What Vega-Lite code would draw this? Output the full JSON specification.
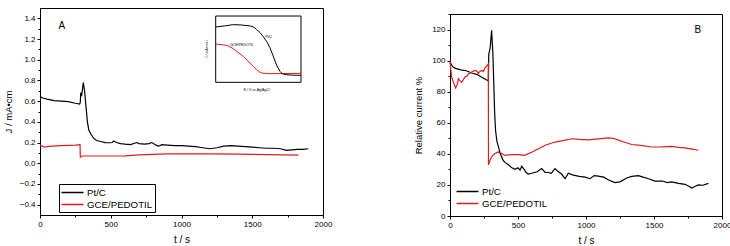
{
  "$schema": "https://vega.github.io/schema/vega-lite/v6.json",
  "padding": {"left": 2, "top": 7, "right": 0, "bottom": 0},
  "spacing": 80,
  "config": {
    "font": "Liberation Sans",
    "view": {"stroke": "black", "strokeWidth": 1},
    "axis": {
      "grid": false,
      "domainColor": "black",
      "tickColor": "black",
      "labelColor": "black",
      "titleColor": "black",
      "labelFont": "Liberation Sans",
      "titleFont": "Liberation Sans",
      "labelFontSize": 8,
      "titleFontSize": 10,
      "titleFontWeight": "normal",
      "tickSize": 3,
      "tickCount": 30,
      "labelPadding": 2,
      "labelOverlap": false,
      "labelFlush": false
    },
    "legend": {
      "labelFont": "Liberation Sans",
      "labelFontSize": 9.7,
      "labelColor": "black",
      "symbolType": "M-2,0H2",
      "symbolStrokeWidth": 1.5,
      "symbolSize": 121,
      "symbolOffset": 5,
      "labelOffset": 8,
      "rowPadding": -3
    },
    "text": {"font": "Liberation Sans"}
  },
  "resolve": {"scale": {"color": "independent"}, "legend": {"color": "independent"}},
  "datasets": {
    "panelA": [
      {"series": "Pt/C", "t": 0, "v": 0.645},
      {"series": "Pt/C", "t": 20, "v": 0.63},
      {"series": "Pt/C", "t": 50, "v": 0.62},
      {"series": "Pt/C", "t": 100, "v": 0.605},
      {"series": "Pt/C", "t": 150, "v": 0.6},
      {"series": "Pt/C", "t": 200, "v": 0.595},
      {"series": "Pt/C", "t": 250, "v": 0.58},
      {"series": "Pt/C", "t": 280, "v": 0.572},
      {"series": "Pt/C", "t": 285, "v": 0.59},
      {"series": "Pt/C", "t": 288, "v": 0.68},
      {"series": "Pt/C", "t": 295, "v": 0.66},
      {"series": "Pt/C", "t": 306, "v": 0.78},
      {"series": "Pt/C", "t": 315, "v": 0.7},
      {"series": "Pt/C", "t": 325, "v": 0.55},
      {"series": "Pt/C", "t": 335, "v": 0.4},
      {"series": "Pt/C", "t": 345, "v": 0.32},
      {"series": "Pt/C", "t": 360, "v": 0.28},
      {"series": "Pt/C", "t": 380, "v": 0.24},
      {"series": "Pt/C", "t": 400, "v": 0.22},
      {"series": "Pt/C", "t": 430, "v": 0.21},
      {"series": "Pt/C", "t": 460, "v": 0.2},
      {"series": "Pt/C", "t": 495, "v": 0.198},
      {"series": "Pt/C", "t": 510, "v": 0.2},
      {"series": "Pt/C", "t": 520, "v": 0.215},
      {"series": "Pt/C", "t": 540, "v": 0.2},
      {"series": "Pt/C", "t": 570, "v": 0.19},
      {"series": "Pt/C", "t": 600, "v": 0.185},
      {"series": "Pt/C", "t": 640, "v": 0.18},
      {"series": "Pt/C", "t": 683, "v": 0.2},
      {"series": "Pt/C", "t": 700, "v": 0.19},
      {"series": "Pt/C", "t": 740, "v": 0.185},
      {"series": "Pt/C", "t": 770, "v": 0.19},
      {"series": "Pt/C", "t": 790, "v": 0.2},
      {"series": "Pt/C", "t": 820, "v": 0.175},
      {"series": "Pt/C", "t": 840, "v": 0.165},
      {"series": "Pt/C", "t": 860, "v": 0.18},
      {"series": "Pt/C", "t": 900, "v": 0.175},
      {"series": "Pt/C", "t": 950, "v": 0.17},
      {"series": "Pt/C", "t": 1000, "v": 0.17},
      {"series": "Pt/C", "t": 1050, "v": 0.165},
      {"series": "Pt/C", "t": 1100, "v": 0.16},
      {"series": "Pt/C", "t": 1150, "v": 0.15},
      {"series": "Pt/C", "t": 1200, "v": 0.14},
      {"series": "Pt/C", "t": 1250, "v": 0.15},
      {"series": "Pt/C", "t": 1300, "v": 0.165},
      {"series": "Pt/C", "t": 1350, "v": 0.17},
      {"series": "Pt/C", "t": 1400, "v": 0.165},
      {"series": "Pt/C", "t": 1450, "v": 0.16},
      {"series": "Pt/C", "t": 1500, "v": 0.155},
      {"series": "Pt/C", "t": 1550, "v": 0.15},
      {"series": "Pt/C", "t": 1600, "v": 0.145},
      {"series": "Pt/C", "t": 1650, "v": 0.145},
      {"series": "Pt/C", "t": 1700, "v": 0.14},
      {"series": "Pt/C", "t": 1740, "v": 0.125},
      {"series": "Pt/C", "t": 1780, "v": 0.13},
      {"series": "Pt/C", "t": 1820, "v": 0.135},
      {"series": "Pt/C", "t": 1860, "v": 0.135},
      {"series": "Pt/C", "t": 1896, "v": 0.14},
      {"series": "GCE/PEDOTIL", "t": 0, "v": 0.175},
      {"series": "GCE/PEDOTIL", "t": 15, "v": 0.165},
      {"series": "GCE/PEDOTIL", "t": 35, "v": 0.155},
      {"series": "GCE/PEDOTIL", "t": 50, "v": 0.16},
      {"series": "GCE/PEDOTIL", "t": 80, "v": 0.165},
      {"series": "GCE/PEDOTIL", "t": 150, "v": 0.17},
      {"series": "GCE/PEDOTIL", "t": 200, "v": 0.172},
      {"series": "GCE/PEDOTIL", "t": 250, "v": 0.175},
      {"series": "GCE/PEDOTIL", "t": 283, "v": 0.18},
      {"series": "GCE/PEDOTIL", "t": 285, "v": 0.06},
      {"series": "GCE/PEDOTIL", "t": 300, "v": 0.07},
      {"series": "GCE/PEDOTIL", "t": 400, "v": 0.07},
      {"series": "GCE/PEDOTIL", "t": 500, "v": 0.07},
      {"series": "GCE/PEDOTIL", "t": 600, "v": 0.072},
      {"series": "GCE/PEDOTIL", "t": 700, "v": 0.08},
      {"series": "GCE/PEDOTIL", "t": 800, "v": 0.085},
      {"series": "GCE/PEDOTIL", "t": 900, "v": 0.09},
      {"series": "GCE/PEDOTIL", "t": 1000, "v": 0.09},
      {"series": "GCE/PEDOTIL", "t": 1200, "v": 0.09},
      {"series": "GCE/PEDOTIL", "t": 1400, "v": 0.088},
      {"series": "GCE/PEDOTIL", "t": 1600, "v": 0.083},
      {"series": "GCE/PEDOTIL", "t": 1826, "v": 0.078}
    ],
    "panelB": [
      {"series": "Pt/C", "t": 0, "v": 99},
      {"series": "Pt/C", "t": 20, "v": 96},
      {"series": "Pt/C", "t": 40, "v": 95},
      {"series": "Pt/C", "t": 80, "v": 94},
      {"series": "Pt/C", "t": 120, "v": 93.5},
      {"series": "Pt/C", "t": 160, "v": 92},
      {"series": "Pt/C", "t": 200, "v": 91},
      {"series": "Pt/C", "t": 240, "v": 89},
      {"series": "Pt/C", "t": 270, "v": 87.5},
      {"series": "Pt/C", "t": 282, "v": 87},
      {"series": "Pt/C", "t": 285, "v": 104},
      {"series": "Pt/C", "t": 295, "v": 108},
      {"series": "Pt/C", "t": 306, "v": 119.5},
      {"series": "Pt/C", "t": 315, "v": 105},
      {"series": "Pt/C", "t": 322, "v": 85},
      {"series": "Pt/C", "t": 328, "v": 67},
      {"series": "Pt/C", "t": 335, "v": 55},
      {"series": "Pt/C", "t": 345, "v": 48},
      {"series": "Pt/C", "t": 355, "v": 45},
      {"series": "Pt/C", "t": 370, "v": 40},
      {"series": "Pt/C", "t": 390, "v": 36},
      {"series": "Pt/C", "t": 404, "v": 34.5},
      {"series": "Pt/C", "t": 430, "v": 33},
      {"series": "Pt/C", "t": 455, "v": 31},
      {"series": "Pt/C", "t": 478, "v": 30},
      {"series": "Pt/C", "t": 500, "v": 31},
      {"series": "Pt/C", "t": 515, "v": 29.5},
      {"series": "Pt/C", "t": 527, "v": 32},
      {"series": "Pt/C", "t": 545, "v": 30},
      {"series": "Pt/C", "t": 560, "v": 28},
      {"series": "Pt/C", "t": 576, "v": 27},
      {"series": "Pt/C", "t": 600, "v": 27.5},
      {"series": "Pt/C", "t": 640, "v": 28.5},
      {"series": "Pt/C", "t": 674, "v": 30.5},
      {"series": "Pt/C", "t": 700, "v": 28},
      {"series": "Pt/C", "t": 723, "v": 28},
      {"series": "Pt/C", "t": 745, "v": 27.5},
      {"series": "Pt/C", "t": 772, "v": 30.5},
      {"series": "Pt/C", "t": 790, "v": 29},
      {"series": "Pt/C", "t": 820, "v": 27},
      {"series": "Pt/C", "t": 846, "v": 24},
      {"series": "Pt/C", "t": 870, "v": 27.5},
      {"series": "Pt/C", "t": 900, "v": 26.5},
      {"series": "Pt/C", "t": 950, "v": 25.5},
      {"series": "Pt/C", "t": 993, "v": 25},
      {"series": "Pt/C", "t": 1030, "v": 24},
      {"series": "Pt/C", "t": 1060, "v": 26},
      {"series": "Pt/C", "t": 1091, "v": 25.7},
      {"series": "Pt/C", "t": 1130, "v": 25},
      {"series": "Pt/C", "t": 1170, "v": 23},
      {"series": "Pt/C", "t": 1213, "v": 21.5},
      {"series": "Pt/C", "t": 1250, "v": 22},
      {"series": "Pt/C", "t": 1300, "v": 24.5},
      {"series": "Pt/C", "t": 1336, "v": 25.5},
      {"series": "Pt/C", "t": 1385, "v": 26},
      {"series": "Pt/C", "t": 1420, "v": 25},
      {"series": "Pt/C", "t": 1460, "v": 24},
      {"series": "Pt/C", "t": 1508, "v": 22.5},
      {"series": "Pt/C", "t": 1560, "v": 22.5},
      {"series": "Pt/C", "t": 1600, "v": 21.5},
      {"series": "Pt/C", "t": 1630, "v": 22},
      {"series": "Pt/C", "t": 1680, "v": 21},
      {"series": "Pt/C", "t": 1728, "v": 20.4},
      {"series": "Pt/C", "t": 1760, "v": 19},
      {"series": "Pt/C", "t": 1777, "v": 18},
      {"series": "Pt/C", "t": 1800, "v": 19},
      {"series": "Pt/C", "t": 1826, "v": 20},
      {"series": "Pt/C", "t": 1860, "v": 19.8},
      {"series": "Pt/C", "t": 1900, "v": 21},
      {"series": "GCE/PEDOTIL", "t": 0, "v": 100},
      {"series": "GCE/PEDOTIL", "t": 5, "v": 95},
      {"series": "GCE/PEDOTIL", "t": 12, "v": 89.5},
      {"series": "GCE/PEDOTIL", "t": 25, "v": 86},
      {"series": "GCE/PEDOTIL", "t": 42, "v": 82.4},
      {"series": "GCE/PEDOTIL", "t": 55, "v": 85},
      {"series": "GCE/PEDOTIL", "t": 61, "v": 88.4},
      {"series": "GCE/PEDOTIL", "t": 75, "v": 87},
      {"series": "GCE/PEDOTIL", "t": 86, "v": 86},
      {"series": "GCE/PEDOTIL", "t": 100, "v": 88},
      {"series": "GCE/PEDOTIL", "t": 110, "v": 89.5},
      {"series": "GCE/PEDOTIL", "t": 125, "v": 90},
      {"series": "GCE/PEDOTIL", "t": 135, "v": 91.6},
      {"series": "GCE/PEDOTIL", "t": 150, "v": 92},
      {"series": "GCE/PEDOTIL", "t": 165, "v": 93},
      {"series": "GCE/PEDOTIL", "t": 184, "v": 93.7},
      {"series": "GCE/PEDOTIL", "t": 200, "v": 93},
      {"series": "GCE/PEDOTIL", "t": 208, "v": 91.6},
      {"series": "GCE/PEDOTIL", "t": 220, "v": 93},
      {"series": "GCE/PEDOTIL", "t": 233, "v": 93.7},
      {"series": "GCE/PEDOTIL", "t": 245, "v": 93},
      {"series": "GCE/PEDOTIL", "t": 257, "v": 95.4},
      {"series": "GCE/PEDOTIL", "t": 270, "v": 96.5},
      {"series": "GCE/PEDOTIL", "t": 282, "v": 98},
      {"series": "GCE/PEDOTIL", "t": 283, "v": 33},
      {"series": "GCE/PEDOTIL", "t": 295, "v": 36},
      {"series": "GCE/PEDOTIL", "t": 310, "v": 38.5},
      {"series": "GCE/PEDOTIL", "t": 328, "v": 40},
      {"series": "GCE/PEDOTIL", "t": 353, "v": 41.2},
      {"series": "GCE/PEDOTIL", "t": 375, "v": 40.5},
      {"series": "GCE/PEDOTIL", "t": 402, "v": 39},
      {"series": "GCE/PEDOTIL", "t": 450, "v": 39.5},
      {"series": "GCE/PEDOTIL", "t": 500, "v": 39.5},
      {"series": "GCE/PEDOTIL", "t": 549, "v": 39},
      {"series": "GCE/PEDOTIL", "t": 600, "v": 41},
      {"series": "GCE/PEDOTIL", "t": 650, "v": 43.3},
      {"series": "GCE/PEDOTIL", "t": 700, "v": 45.5},
      {"series": "GCE/PEDOTIL", "t": 772, "v": 47.6},
      {"series": "GCE/PEDOTIL", "t": 830, "v": 48.5},
      {"series": "GCE/PEDOTIL", "t": 895, "v": 49.7},
      {"series": "GCE/PEDOTIL", "t": 950, "v": 49.3},
      {"series": "GCE/PEDOTIL", "t": 1017, "v": 49},
      {"series": "GCE/PEDOTIL", "t": 1090, "v": 49.6},
      {"series": "GCE/PEDOTIL", "t": 1164, "v": 50.3},
      {"series": "GCE/PEDOTIL", "t": 1200, "v": 50},
      {"series": "GCE/PEDOTIL", "t": 1238, "v": 48.8},
      {"series": "GCE/PEDOTIL", "t": 1290, "v": 47.3},
      {"series": "GCE/PEDOTIL", "t": 1336, "v": 46},
      {"series": "GCE/PEDOTIL", "t": 1400, "v": 45.5},
      {"series": "GCE/PEDOTIL", "t": 1483, "v": 44.4},
      {"series": "GCE/PEDOTIL", "t": 1560, "v": 44.5},
      {"series": "GCE/PEDOTIL", "t": 1630, "v": 44.8},
      {"series": "GCE/PEDOTIL", "t": 1680, "v": 44.2},
      {"series": "GCE/PEDOTIL", "t": 1728, "v": 43.8},
      {"series": "GCE/PEDOTIL", "t": 1780, "v": 43},
      {"series": "GCE/PEDOTIL", "t": 1826, "v": 42.3}
    ],
    "inset": [
      {"series": "Pt/C", "e": 0, "j": 0.834},
      {"series": "Pt/C", "e": 0.1, "j": 0.85},
      {"series": "Pt/C", "e": 0.206, "j": 0.87},
      {"series": "Pt/C", "e": 0.3, "j": 0.865},
      {"series": "Pt/C", "e": 0.406, "j": 0.85},
      {"series": "Pt/C", "e": 0.45, "j": 0.83},
      {"series": "Pt/C", "e": 0.48, "j": 0.795},
      {"series": "Pt/C", "e": 0.52, "j": 0.75},
      {"series": "Pt/C", "e": 0.557, "j": 0.69},
      {"series": "Pt/C", "e": 0.6, "j": 0.61},
      {"series": "Pt/C", "e": 0.636, "j": 0.52},
      {"series": "Pt/C", "e": 0.67, "j": 0.41},
      {"series": "Pt/C", "e": 0.695, "j": 0.32},
      {"series": "Pt/C", "e": 0.725, "j": 0.23},
      {"series": "Pt/C", "e": 0.753, "j": 0.166},
      {"series": "Pt/C", "e": 0.78, "j": 0.13},
      {"series": "Pt/C", "e": 0.812, "j": 0.116},
      {"series": "Pt/C", "e": 0.9, "j": 0.108},
      {"series": "Pt/C", "e": 1.0, "j": 0.105},
      {"series": "GCE/PEDOTIL", "e": 0, "j": 0.578},
      {"series": "GCE/PEDOTIL", "e": 0.129, "j": 0.558},
      {"series": "GCE/PEDOTIL", "e": 0.19, "j": 0.52},
      {"series": "GCE/PEDOTIL", "e": 0.246, "j": 0.467},
      {"series": "GCE/PEDOTIL", "e": 0.324, "j": 0.39},
      {"series": "GCE/PEDOTIL", "e": 0.402, "j": 0.29},
      {"series": "GCE/PEDOTIL", "e": 0.44, "j": 0.24},
      {"series": "GCE/PEDOTIL", "e": 0.48, "j": 0.19},
      {"series": "GCE/PEDOTIL", "e": 0.51, "j": 0.16},
      {"series": "GCE/PEDOTIL", "e": 0.54, "j": 0.14},
      {"series": "GCE/PEDOTIL", "e": 0.6, "j": 0.132},
      {"series": "GCE/PEDOTIL", "e": 0.636, "j": 0.13},
      {"series": "GCE/PEDOTIL", "e": 0.8, "j": 0.133},
      {"series": "GCE/PEDOTIL", "e": 1.0, "j": 0.135}
    ]
  },
  "hconcat": [
    {
      "width": 283,
      "height": 207,
      "layer": [
        {
          "layer": [
            {
              "data": {"name": "panelA"},
              "mark": {"type": "line", "strokeWidth": 1.2},
              "encoding": {
                "x": {"field": "t", "type": "quantitative", "title": "t / s",
                  "scale": {"domain": [0, 2000], "nice": false},
                  "axis": {"values": [0, 500, 1000, 1500, 2000], "format": "d", "titlePadding": 6}},
                "y": {"field": "v", "type": "quantitative", "title": "J / mA•cm",
                  "scale": {"domain": [-0.5, 1.5], "nice": false, "zero": false},
                  "axis": {"values": [-0.4, -0.2, 0, 0.2, 0.4, 0.6, 0.8, 1.0, 1.2, 1.4], "format": ".1f", "titlePadding": 6, "titleFontSize": 9.5}},
                "color": {"field": "series", "type": "nominal", "sort": ["Pt/C", "GCE/PEDOTIL"],
                  "scale": {"domain": ["Pt/C", "GCE/PEDOTIL"], "range": ["black", "#e01b1b"]},
                  "legend": {"title": null, "orient": "none", "legendX": 19, "legendY": 176, "strokeColor": "black", "fillColor": "white", "padding": 2}}
              }
            },
            {
              "data": {"values": [{}]},
              "mark": {"type": "text", "text": "A", "fontSize": 10, "align": "center", "baseline": "middle", "color": "black"},
              "encoding": {
                "x": {"datum": 155, "type": "quantitative",
                  "axis": {"orient": "bottom", "values": [250, 750, 1250, 1750], "labels": false, "domain": false, "title": null, "tickSize": 2}},
                "y": {"datum": 1.33, "type": "quantitative",
                  "axis": {"orient": "left", "values": [-0.3, -0.1, 0.1, 0.3, 0.5, 0.7, 0.9, 1.1, 1.3], "labels": false, "domain": false, "title": null, "tickSize": 2}}
              }
            }
          ],
          "resolve": {"axis": {"x": "independent", "y": "independent"}}
        },
        {
          "layer": [
            {
              "data": {"values": [{}]},
              "mark": {"type": "rect", "fill": "white", "stroke": "black", "strokeWidth": 1},
              "encoding": {
                "x": {"datum": 0, "type": "quantitative", "scale": {"domain": [-2.06, 1.258], "nice": false, "zero": false}, "axis": null},
                "x2": {"datum": 1},
                "y": {"datum": 0, "type": "quantitative", "scale": {"domain": [-2.002, 1.121], "nice": false, "zero": false}, "axis": null},
                "y2": {"datum": 1}
              }
            },
            {
              "data": {"name": "inset"},
              "transform": [{"filter": "datum.series === 'GCE/PEDOTIL'"}],
              "mark": {"type": "line", "color": "#e01b1b", "strokeWidth": 1},
              "encoding": {
                "x": {"field": "e", "type": "quantitative", "scale": {"domain": [-2.06, 1.258], "nice": false, "zero": false}, "axis": null},
                "y": {"field": "j", "type": "quantitative", "scale": {"domain": [-2.002, 1.121], "nice": false, "zero": false}, "axis": null}
              }
            },
            {
              "data": {"name": "inset"},
              "transform": [{"filter": "datum.series === 'Pt/C'"}],
              "mark": {"type": "line", "color": "black", "strokeWidth": 1},
              "encoding": {
                "x": {"field": "e", "type": "quantitative", "scale": {"domain": [-2.06, 1.258], "nice": false, "zero": false}, "axis": null},
                "y": {"field": "j", "type": "quantitative", "scale": {"domain": [-2.002, 1.121], "nice": false, "zero": false}, "axis": null}
              }
            },
            {
              "data": {"values": [{}]},
              "mark": {"type": "text", "text": "Pt/C", "fontSize": 3.5, "align": "left", "baseline": "middle", "color": "black"},
              "encoding": {
                "x": {"datum": 0.58, "type": "quantitative", "scale": {"domain": [-2.06, 1.258], "nice": false, "zero": false}, "axis": null},
                "y": {"datum": 0.69, "type": "quantitative", "scale": {"domain": [-2.002, 1.121], "nice": false, "zero": false}, "axis": null}
              }
            },
            {
              "data": {"values": [{}]},
              "mark": {"type": "text", "text": "GCE/PEDOTIL", "fontSize": 3.5, "align": "left", "baseline": "middle", "color": "black"},
              "encoding": {
                "x": {"datum": 0.17, "type": "quantitative", "scale": {"domain": [-2.06, 1.258], "nice": false, "zero": false}, "axis": null},
                "y": {"datum": 0.57, "type": "quantitative", "scale": {"domain": [-2.002, 1.121], "nice": false, "zero": false}, "axis": null}
              }
            },
            {
              "data": {"values": [{}]},
              "mark": {"type": "text", "text": "E / V vs Ag/AgCl", "fontSize": 3.5, "align": "center", "baseline": "middle", "color": "black"},
              "encoding": {
                "x": {"datum": 0.48, "type": "quantitative", "scale": {"domain": [-2.06, 1.258], "nice": false, "zero": false}, "axis": null},
                "y": {"datum": -0.12, "type": "quantitative", "scale": {"domain": [-2.002, 1.121], "nice": false, "zero": false}, "axis": null}
              }
            },
            {
              "data": {"values": [{}]},
              "mark": {"type": "text", "text": "J / mA•cm⁻²", "fontSize": 3.5, "angle": 270, "align": "center", "baseline": "middle", "color": "black"},
              "encoding": {
                "x": {"datum": -0.105, "type": "quantitative", "scale": {"domain": [-2.06, 1.258], "nice": false, "zero": false}, "axis": null},
                "y": {"datum": 0.5, "type": "quantitative", "scale": {"domain": [-2.002, 1.121], "nice": false, "zero": false}, "axis": null}
              }
            }
          ]
        }
      ],
      "resolve": {"scale": {"x": "independent", "y": "independent"}, "axis": {"x": "independent", "y": "independent"}}
    },
    {
      "spacing": 1,
      "vconcat": [
        {
          "width": 272,
          "height": 4,
          "view": {"stroke": null},
          "data": {"values": []},
          "mark": "point",
          "encoding": {}
        },
        {
          "width": 272,
          "height": 202,
          "layer": [
            {
              "data": {"name": "panelB"},
              "mark": {"type": "line", "strokeWidth": 1.2},
              "encoding": {
                "x": {"field": "t", "type": "quantitative", "title": "t / s",
                  "scale": {"domain": [0, 2000], "nice": false},
                  "axis": {"values": [0, 500, 1000, 1500, 2000], "format": "d", "titlePadding": 6}},
                "y": {"field": "v", "type": "quantitative", "title": "Relative current %",
                  "scale": {"domain": [0, 130], "nice": false},
                  "axis": {"values": [0, 20, 40, 60, 80, 100, 120], "titlePadding": 8, "titleFontSize": 9.5}},
                "color": {"field": "series", "type": "nominal", "sort": ["Pt/C", "GCE/PEDOTIL"],
                  "scale": {"domain": ["Pt/C", "GCE/PEDOTIL"], "range": ["black", "#e01b1b"]},
                  "legend": {"title": null, "orient": "none", "legendX": 6, "legendY": 177, "padding": 0}}
              }
            },
            {
              "data": {"values": [{}]},
              "mark": {"type": "text", "text": "B", "fontSize": 10, "align": "center", "baseline": "middle", "color": "black"},
              "encoding": {
                "x": {"datum": 1823, "type": "quantitative",
                  "axis": {"orient": "bottom", "values": [250, 750, 1250, 1750], "labels": false, "domain": false, "title": null, "tickSize": 2}},
                "y": {"datum": 120, "type": "quantitative",
                  "axis": {"orient": "left", "values": [10, 30, 50, 70, 90, 110, 130], "labels": false, "domain": false, "title": null, "tickSize": 2}}
              }
            }
          ],
          "resolve": {"axis": {"x": "independent", "y": "independent"}}
        }
      ]
    }
  ]
}
